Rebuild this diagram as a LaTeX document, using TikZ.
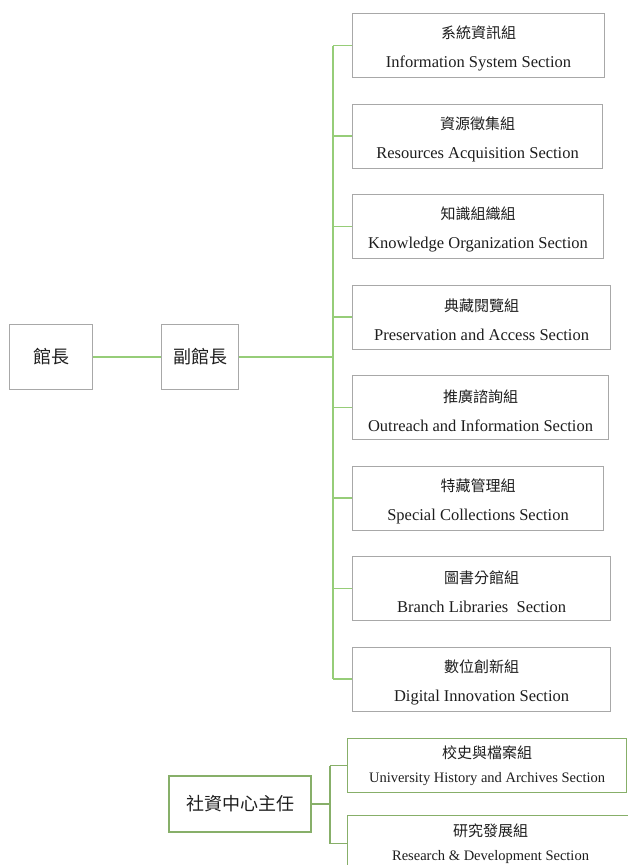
\documentclass[tikz,border=0pt]{standalone}
\usepackage{fontspec}
\setmainfont{Liberation Serif}
\newfontfamily\cjk{Noto Sans CJK TC}
\usetikzlibrary{positioning}
\definecolor{linegreen}{RGB}{150,205,120}
\definecolor{boxgreen}{RGB}{135,175,105}
\definecolor{boxgray}{RGB}{168,168,168}
\definecolor{inkgray}{RGB}{30,30,30}

\tikzset{
  unit/.style={draw=boxgray, line width=1.1pt, fill=white, text=inkgray, align=center, inner sep=0pt, anchor=north west, minimum height=64pt, font=\fontsize{16.5}{29}\selectfont},
  subunit/.style={unit, draw=boxgreen, minimum height=54pt, font=\fontsize{14.5}{24}\selectfont},
  head/.style={draw=boxgray, line width=1.1pt, fill=white, text=inkgray, inner sep=0pt, minimum height=65pt, font=\cjk\fontsize{18}{18}\selectfont},
  link/.style={draw=linegreen, line width=1.5pt},
  sublink/.style={draw=boxgreen, line width=1.3pt},
}

\begin{document}
\begin{tikzpicture}[x=1pt,y=-1pt]
 \useasboundingbox (0,0) rectangle (627,865);
 \def\pitch{90.5}

    %Heads
    \node[head, minimum width=83pt] (dir) at (51,357) {館長};
    \node[head, minimum width=77pt] (vdir) at (200,357) {副館長};
    \coordinate (bus) at (333,357);

    % Sections
    \foreach \i/\w/\zh/\en in {1/252/系統資訊組/Information System Section,
        2/250/資源徵集組/Resources Acquisition Section,
        3/251/知識組織組/Knowledge Organization Section,
        4/258/典藏閱覽組/Preservation and Access Section,
        5/256/推廣諮詢組/Outreach and Information Section,
        6/251/特藏管理組/Special Collections Section,
        7/258/圖書分館組/Branch Libraries~~Section,
        8/258/數位創新組/Digital Innovation Section}
    {
      \node[unit, minimum width=\w pt] (sec\i) at (352,{13+(\i-1)*\pitch}) {{\cjk\fontsize{15}{29}\selectfont\rule{0pt}{19pt}\zh}\\ \en};
      \draw[link] (bus |- sec\i.west) -- (sec\i.west);
    }

    % Lines
    \draw[link] (dir) -- (vdir);
    \draw[link] (vdir) -- (bus);
    \draw[link] (bus |- sec1.west) -- (bus |- sec8.west);

    % Centre
    \node[head, draw=boxgreen, minimum width=142pt, minimum height=56pt] (ctr) at (240,804) {社資中心主任};
    \coordinate (fork) at (330,804);
    \node[subunit, minimum width=279pt] (hist) at (347,738) {{\cjk\fontsize{15}{24}\selectfont 校史與檔案組}\\ University History and Archives Section};
    \node[subunit, minimum width=286pt, minimum height=56pt] (rnd) at (347,815) {{\cjk\fontsize{15}{24}\selectfont 研究發展組}\\ Research \& Development Section};
    \draw[sublink] (ctr) -- (fork);
    \draw[sublink] (fork |- hist.west) -- (fork |- rnd.west);
    \draw[sublink] (fork |- hist.west) -- (hist.west);
    \draw[sublink] (fork |- rnd.west) -- (rnd.west);
\end{tikzpicture}
\end{document}
